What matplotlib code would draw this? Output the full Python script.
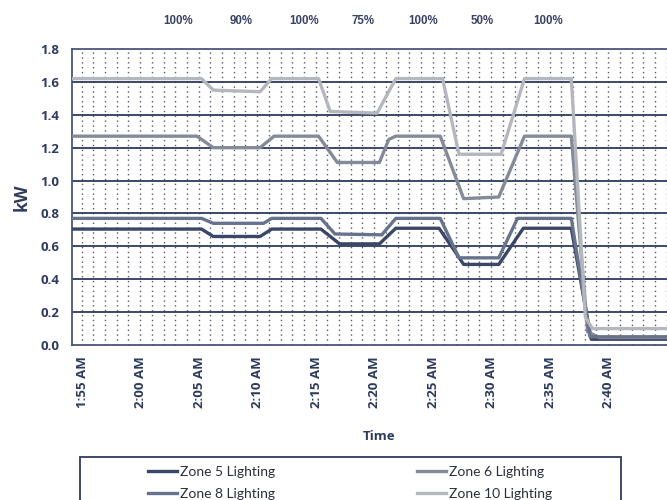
import numpy as np
import matplotlib.pyplot as plt
import matplotlib.transforms as mtransforms
from matplotlib.patches import Rectangle

# minutes after 1:55 AM
t_z5 = [-0.9, 10.2, 11.2, 15.2, 16.2, 20.4, 22, 25.4, 26.8, 30.5, 32.6, 35.6, 37.7, 41.8, 43.5, 50.2]
v_z5 = [0.705, 0.705, 0.66, 0.66, 0.705, 0.705, 0.615, 0.615, 0.71, 0.71, 0.49, 0.49, 0.71, 0.71, 0.035, 0.035]

t_z6 = [-0.9, 9.8, 11.2, 15.2, 16.4, 20.2, 21.8, 25.4, 26.2, 26.8, 30.6, 32.6, 35.6, 37.8, 41.8, 43.2, 44.2, 50.2]
v_z6 = [1.27, 1.27, 1.20, 1.20, 1.27, 1.27, 1.11, 1.11, 1.25, 1.27, 1.27, 0.89, 0.90, 1.27, 1.27, 0.08, 0.045, 0.045]

t_z8 = [-0.9, 10.2, 11.2, 15.5, 16.2, 20.4, 21.6, 25.6, 26.8, 30.6, 32.2, 35.6, 37.2, 41.8, 43.4, 50.2]
v_z8 = [0.77, 0.77, 0.74, 0.74, 0.77, 0.77, 0.675, 0.67, 0.77, 0.77, 0.53, 0.53, 0.77, 0.77, 0.05, 0.05]

t_z10 = [-0.9, 10.2, 11.2, 15.2, 16.2, 20.2, 21.2, 25.2, 26.8, 30.8, 32.2, 35.8, 37.8, 41.8, 43, 43.6, 50.2]
v_z10 = [1.62, 1.62, 1.55, 1.54, 1.62, 1.62, 1.42, 1.41, 1.62, 1.62, 1.16, 1.16, 1.62, 1.62, 0.17, 0.10, 0.10]

tick_pos = [0, 5, 10, 15, 20, 25, 30, 35, 40, 45]
tick_lab = ['1:55 AM', '2:00 AM', '2:05 AM', '2:10 AM', '2:15 AM',
            '2:20 AM', '2:25 AM', '2:30 AM', '2:35 AM', '2:40 AM']

pct_pos = [8.2, 13.6, 19.0, 24.0, 29.1, 34.2, 39.8]
pct_lab = ['100%', '90%', '100%', '75%', '100%', '50%', '100%']

navy = '#2e3a5e'
font = 'Open Sans'

fig = plt.figure(figsize=(6.67, 5), dpi=100)
ax = fig.add_axes([0.108, 0.31, 0.895, 0.592])

# grid: dotted every minute, solid every 0.2 kW
for m in range(0, 51):
    ax.axvline(m - 0.05, color='#55596a', lw=1.0, ls=(0, (1, 2.5)), zorder=1)
for y in np.arange(0.2, 1.8, 0.2):
    ax.axhline(y, color=navy, lw=1.3, zorder=1)

l5, = ax.plot(t_z5, v_z5, color='#3a4766', lw=2.4, label='Zone 5 Lighting', zorder=3)
l6, = ax.plot(t_z6, v_z6, color='#858a98', lw=2.4, label='Zone 6 Lighting', zorder=3)
l8, = ax.plot(t_z8, v_z8, color='#67728c', lw=2.4, label='Zone 8 Lighting', zorder=3)
l10, = ax.plot(t_z10, v_z10, color='#b4b7bd', lw=2.4, label='Zone 10 Lighting', zorder=3)

ax.set_xlim(-0.87, 50.15)
ax.set_ylim(0, 1.8)
yt = np.arange(0, 1.81, 0.2)
ax.set_yticks(yt)
ax.set_yticklabels(['%.1f' % v for v in yt], fontsize=9.5, fontweight='bold',
                   color=navy, family=font)
ax.set_xticks(tick_pos)
ax.set_xticklabels(tick_lab, rotation=90, fontsize=9.5, fontweight='bold',
                   color=navy, family=font)
ax.tick_params(axis='y', length=0, pad=9)
ax.tick_params(axis='x', length=0, pad=8)
for s in ax.spines.values():
    s.set_color('#4a5578')
    s.set_linewidth(1.3)

ax.set_ylabel('kW', fontsize=12.5, fontweight='bold', color=navy, family=font, labelpad=7)
fig.text(0.568, 0.128, 'Time', ha='center', va='center', fontsize=9.5,
         fontweight='bold', color=navy, family=font)

trans = mtransforms.blended_transform_factory(ax.transData, ax.transAxes)
for x, s in zip(pct_pos, pct_lab):
    ax.text(x, 1.095, s, transform=trans, ha='center', va='center', fontsize=8.3,
            fontweight='bold', color='#3a4266', family='Liberation Sans')

# legend box (bottom runs off the picture)
fig.patches.append(Rectangle((80 / 667, -0.02), (621 - 80) / 667, 0.106,
                             transform=fig.transFigure, fill=False,
                             edgecolor=navy, lw=1.3))
leg = fig.legend([l5, l8, l6, l10],
                 ['Zone 5 Lighting', 'Zone 8 Lighting', 'Zone 6 Lighting', 'Zone 10 Lighting'],
                 loc='upper left', bbox_to_anchor=(148 / 667, 0.069), ncol=2,
                 frameon=False, prop={'family': 'Lato', 'size': 10},
                 handlelength=2.1, handletextpad=0.2, borderpad=0,
                 borderaxespad=0, labelspacing=0.75, columnspacing=10.2)
for t in leg.get_texts():
    t.set_color('#2b2f3a')

plt.savefig('out.png', dpi=100)
